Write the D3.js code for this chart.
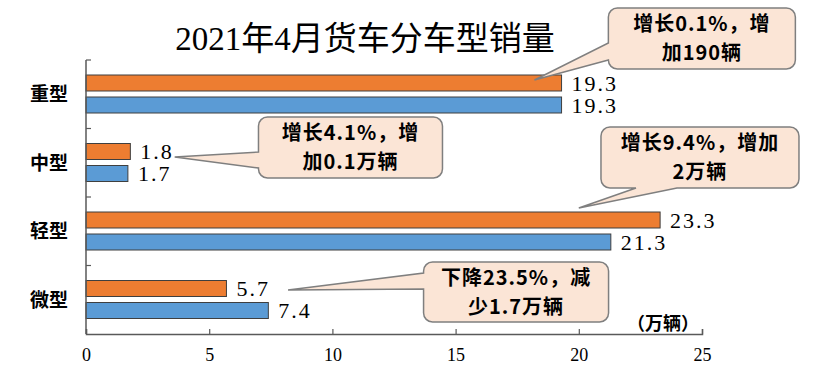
<!DOCTYPE html>
<html>
<head>
<meta charset="utf-8">
<script src="https://cdn.jsdelivr.net/npm/d3@7"></script>
<style>
  body { margin: 0; background: #fff; }
  svg { display: block; }
</style>
</head>
<body>
<div id="chart"></div>
<script>
// data
var categories = ["重型", "中型", "轻型", "微型"];
var seriesNames = ["2021年4月", "2020年4月"];
var sales2021 = [19.3, 1.8, 23.3, 5.7];
var sales2020 = [19.3, 1.7, 21.3, 7.4];
var xTicks = [0, 5, 10, 15, 20, 25];
var notes = [
  { cat: "重型", lines: ["增长0.1%，增", "加190辆"] },
  { cat: "中型", lines: ["增长4.1%，增", "加0.1万辆"] },
  { cat: "轻型", lines: ["增长9.4%，增加", "2万辆"] },
  { cat: "微型", lines: ["下降23.5%，减", "少1.7万辆"] }
];

var width = 820, height = 377;
var colors = ["#ED7D31", "#5B9BD5"];
var latin = "'Liberation Serif', 'Noto Sans CJK SC', serif";
var cjk = "'Noto Sans CJK SC', sans-serif";

var svg = d3.select("#chart").append("svg")
    .attr("width", width)
    .attr("height", height);

// scales
var x = d3.scaleLinear().domain([0, 25]).range([86, 702]);
var y = d3.scaleBand().domain(categories).range([60, 334]);
var sub = d3.scaleBand().domain(seriesNames).range([15, 53]).paddingInner(0.273);

// title
svg.append("text")
    .attr("x", 365).attr("y", 50)
    .attr("text-anchor", "middle")
    .style("font-family", latin)
    .style("font-size", "33px")
    .text("2021年4月货车分车型销量");

// bars
var rows = categories.map(function(c, i) {
  return { cat: c, vals: [sales2021[i], sales2020[i]] };
});

var g = svg.selectAll(".row").data(rows).enter().append("g")
    .attr("class", "row")
    .attr("transform", function(d) { return "translate(0," + y(d.cat) + ")"; });

g.selectAll("rect")
    .data(function(d) { return d.vals.map(function(v, k) { return { s: seriesNames[k], v: v, k: k }; }); })
    .enter().append("rect")
    .attr("x", x(0))
    .attr("y", function(d) { return sub(d.s); })
    .attr("width", function(d) { return x(d.v) - x(0); })
    .attr("height", sub.bandwidth())
    .attr("fill", function(d) { return colors[d.k]; })
    .attr("stroke", "#3f3f3f")
    .attr("stroke-width", 1);

g.selectAll("text.val")
    .data(function(d) { return d.vals.map(function(v, k) { return { s: seriesNames[k], v: v }; }); })
    .enter().append("text")
    .attr("class", "val")
    .attr("x", function(d) { return x(d.v) + 10; })
    .attr("y", function(d) { return sub(d.s) + sub.bandwidth() / 2; })
    .attr("dy", "0.36em")
    .style("font-family", latin)
    .style("font-size", "22px")
    .style("letter-spacing", "2px")
    .text(function(d) { return d.v.toFixed(1); });

// category labels
svg.selectAll(".cat").data(categories).enter().append("text")
    .attr("class", "cat")
    .attr("x", 49)
    .attr("y", function(d) { return y(d) + y.bandwidth() / 2; })
    .attr("dy", "0.36em")
    .attr("text-anchor", "middle")
    .style("font-family", cjk)
    .style("font-weight", "bold")
    .style("font-size", "19px")
    .text(function(d) { return d; });

// axes
var axisColor = "#595959";
svg.append("line")
    .attr("x1", x(0)).attr("x2", x(0))
    .attr("y1", y.range()[0]).attr("y2", y.range()[1])
    .attr("stroke", axisColor).attr("stroke-width", 1.5);
svg.selectAll(".ytick").data(categories).enter().append("line")
    .attr("x1", x(0)).attr("x2", x(0) + 5)
    .attr("y1", function(d) { return y(d); })
    .attr("y2", function(d) { return y(d); })
    .attr("stroke", axisColor).attr("stroke-width", 1.2);

var xAxis = svg.append("g")
    .attr("transform", "translate(0," + y.range()[1] + ")")
    .call(d3.axisBottom(x).tickValues(xTicks).tickSize(-5).tickPadding(14));
xAxis.select(".domain").attr("stroke", axisColor).attr("stroke-width", 1.5);
xAxis.selectAll(".tick line").attr("stroke", axisColor).attr("stroke-width", 1.2);
xAxis.selectAll(".tick text")
    .style("font-family", latin)
    .style("font-size", "18px")
    .attr("fill", "#000");

svg.append("text")
    .attr("x", 699).attr("y", 330)
    .attr("text-anchor", "end")
    .style("font-family", cjk)
    .style("font-weight", "bold")
    .style("font-size", "18px")
    .text("（万辆）");

// callouts: box placed in data units along x, tip on the 2021 bar
var boxes = [
  { bx: 21.2, bw: 187, by: -67,   bh: 61, tipV: 18.2, tipDy: 5,    side: "left",   w1: 35, w2: 52 },
  { bx: 7.0,  bw: 184, by: -26.5, bh: 61, tipV: 3.6,  tipDy: 13.5, side: "left",   w1: 35, w2: 51 },
  { bx: 20.9, bw: 198, by: -85,   bh: 61, tipV: 20.0, tipDy: -4,   side: "bottom", w1: 35, w2: 76 },
  { bx: 13.7, bw: 185, by: -18.5, bh: 60, tipV: 8.2,  tipDy: 9.5,  side: "left",   w1: 11, w2: 27 }
];

function calloutPath(x0, y0, w, h, r, b, tx, ty) {
  var p = d3.path();
  p.moveTo(x0 + r, y0);
  p.lineTo(x0 + w - r, y0);
  p.arcTo(x0 + w, y0, x0 + w, y0 + r, r);
  p.lineTo(x0 + w, y0 + h - r);
  p.arcTo(x0 + w, y0 + h, x0 + w - r, y0 + h, r);
  if (b.side === "bottom") {
    p.lineTo(x0 + b.w2, y0 + h);
    p.lineTo(tx, ty);
    p.lineTo(x0 + b.w1, y0 + h);
  }
  p.lineTo(x0 + r, y0 + h);
  p.arcTo(x0, y0 + h, x0, y0 + h - r, r);
  if (b.side === "left") {
    p.lineTo(x0, y0 + b.w2);
    p.lineTo(tx, ty);
    p.lineTo(x0, y0 + b.w1);
  }
  p.lineTo(x0, y0 + r);
  p.arcTo(x0, y0, x0 + r, y0, r);
  p.closePath();
  return p.toString();
}

notes.forEach(function(n, i) {
  var b = boxes[i];
  var barY = y(n.cat) + sub(seriesNames[0]);
  var x0 = x(b.bx), y0 = barY + b.by;
  var tx = x(b.tipV), ty = barY + b.tipDy;
  var cg = svg.append("g");
  cg.append("path")
      .attr("d", calloutPath(x0, y0, b.bw, b.bh, 9, b, tx, ty))
      .attr("fill", "#FBE5D6")
      .attr("stroke", "#7F7F7F")
      .attr("stroke-width", 1.5);
  n.lines.forEach(function(line, k) {
    cg.append("text")
        .attr("x", x0 + b.bw / 2)
        .attr("y", y0 + b.bh / 2 + (k - 0.5) * 29)
        .attr("dy", "0.36em")
        .attr("text-anchor", "middle")
        .style("font-family", cjk)
        .style("font-weight", "bold")
        .style("font-size", "20px")
        .style("letter-spacing", "1px")
        .text(line);
  });
});
</script>
</body>
</html>
